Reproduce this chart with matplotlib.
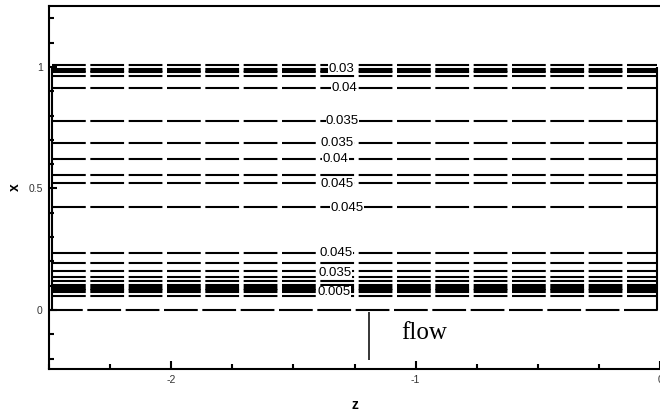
import numpy as np
import matplotlib
matplotlib.use("Agg")
import matplotlib.pyplot as plt
from matplotlib.ticker import MultipleLocator

plt.rcParams['font.family'] = ['Liberation Sans', 'DejaVu Sans']
plt.rcParams['axes.unicode_minus'] = False
plt.rcParams['lines.scale_dashes'] = False

# contour lines (x level of each nearly horizontal iso-line)
contour_x = [1.008, 0.992, 0.985, 0.978, 0.964, 0.915, 0.777, 0.688, 0.623,
             0.555, 0.521, 0.423, 0.233, 0.192, 0.160, 0.136, 0.119, 0.102,
             0.095, 0.088, 0.081, 0.074, 0.058]
zero_line_x = 0.0

# contour labels
label_text = ["0.03", "0.04", "0.035", "0.035", "0.04", "0.045", "0.045",
              "0.045", "0.035", "0.005"]
label_z = [-1.303, -1.291, -1.299, -1.320, -1.328, -1.320, -1.279,
           -1.324, -1.328, -1.332]
label_x = [0.992, 0.914, 0.778, 0.687, 0.621, 0.519, 0.420, 0.235, 0.152, 0.074]

# domain box and flow marker
box_z = [-2.488, -0.012]
box_x = [0.0, 1.0]
flow_z = -1.19
flow_x = [-0.01, -0.205]

fig = plt.figure(figsize=(6.6, 4.16), dpi=100)
ax = fig.add_axes([49 / 660, 47 / 416, 611 / 660, 363.5 / 416])
ax.set_xlim(-2.5, 0.0)
ax.set_ylim(-0.243, 1.253)

dash = (0, (24.3, 3.3))
ax.hlines(contour_x, box_z[0], box_z[1], colors='black', linewidth=1.5,
          linestyles=[dash])
ax.hlines([zero_line_x], -2.5, 0.0, colors='black', linewidth=1.5,
          linestyles=[dash])

# domain edges
ax.vlines(box_z, box_x[0], box_x[1], colors='black', linewidth=1.5)

for t, z, x in zip(label_text, label_z, label_x):
    ax.text(z, x, t, fontsize=9.5, ha='center', va='center',
            bbox=dict(facecolor='white', edgecolor='none', pad=0.3))

ax.vlines(flow_z, flow_x[1], flow_x[0], colors='black', linewidth=1.1)
ax.text(flow_z + 0.13, -0.095, "flow", family='Liberation Serif',
        fontsize=18, ha='left', va='center')

ax.set_xticks([-2, -1, 0])
ax.set_xticklabels(["-2", "-1", "0"])
ax.set_yticks([0, 0.5, 1])
ax.set_yticklabels(["0", "0.5", "1"])
ax.xaxis.set_minor_locator(MultipleLocator(0.25))
ax.yaxis.set_minor_locator(MultipleLocator(0.1))
ax.tick_params(which='both', direction='in', width=1.5, labelsize=7.5,
               labelcolor='#333333', top=False, right=False)
ax.tick_params(which='major', length=5.5, pad=4.5)
ax.tick_params(which='minor', length=3.5)

for side in ['left', 'bottom', 'top']:
    ax.spines[side].set_linewidth(1.5)
ax.spines['right'].set_visible(False)

ax.set_xlabel("z", fontsize=10, fontweight='bold')
ax.set_ylabel("x", fontsize=10, fontweight='bold')
ax.xaxis.set_label_coords(0.5, -29 / 363.5)
ax.yaxis.set_label_coords(-27 / 611, 0.5)

fig.savefig("out.png", dpi=100)
